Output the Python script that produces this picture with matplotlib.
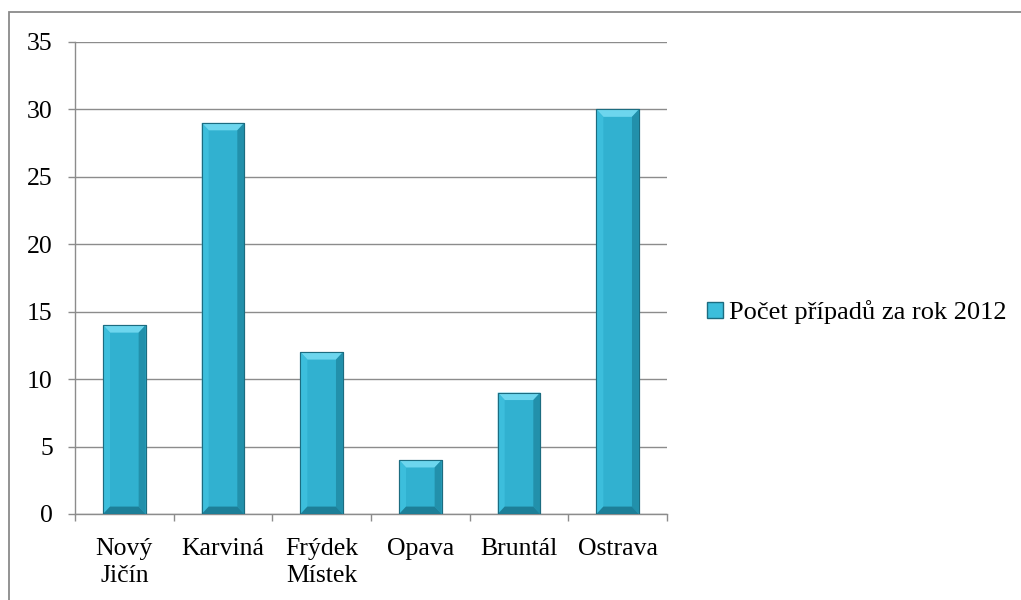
import matplotlib.pyplot as plt
from matplotlib.patches import Polygon, Rectangle
from matplotlib.lines import Line2D

# Data
districts = ['Nový\nJičín', 'Karviná', 'Frýdek\nMístek', 'Opava', 'Bruntál', 'Ostrava']
cases = [14, 29, 12, 4, 9, 30]
series_name = 'Počet případů za rok 2012'

plt.rcParams['font.family'] = ['Liberation Serif', 'DejaVu Serif']
plt.rcParams['font.size'] = 18.5

face = '#31b1d0'
top_c = '#6dd6ee'
left_c = '#3cbedc'
right_c = '#2290ab'
bot_c = '#1d7f98'
edge = '#1c6c80'
grid_c = '#8c8c8c'

fig = plt.figure(figsize=(10.21, 6), dpi=100)
ax = fig.add_axes([75 / 1021, 1 - 514 / 600, (667 - 75) / 1021, (514 - 42) / 600])

x = list(range(len(districts)))
bars = ax.bar(x, cases, width=0.43, color=face, edgecolor=edge, linewidth=0.8, zorder=3)

# bevel effect on each bar
bx, by = 0.07, 0.55
for b in bars:
    x0, w, h = b.get_x(), b.get_width(), b.get_height()
    x1 = x0 + w
    polys = [
        ([(x0, h), (x1, h), (x1 - bx, h - by), (x0 + bx, h - by)], top_c),
        ([(x0, 0), (x0, h), (x0 + bx, h - by), (x0 + bx, by)], left_c),
        ([(x1, 0), (x1, h), (x1 - bx, h - by), (x1 - bx, by)], right_c),
        ([(x0, 0), (x1, 0), (x1 - bx, by), (x0 + bx, by)], bot_c),
    ]
    for pts, c in polys:
        ax.add_patch(Polygon(pts, closed=True, facecolor=c, edgecolor='none', zorder=4))
    ax.add_patch(Rectangle((x0, 0), w, h, facecolor='none', edgecolor=edge, linewidth=0.8, zorder=5))

ax.set_xlim(-0.5, len(districts) - 0.5)
ax.set_ylim(0, 35)
ax.set_yticks(range(0, 36, 5))
ax.set_xticks(x)
ax.set_xticklabels(districts, linespacing=1.3)
ax.set_xticks([i - 0.5 for i in range(len(districts) + 1)], minor=True)
ax.tick_params(axis='x', which='major', length=0, pad=17)
ax.tick_params(axis='x', which='minor', length=5, width=1, color=grid_c, direction='out')
ax.tick_params(axis='y', length=5, width=1, color=grid_c, direction='out', pad=11)

ax.grid(axis='y', color=grid_c, linewidth=1, zorder=0)
ax.set_axisbelow(True)
for s in ['top', 'right']:
    ax.spines[s].set_visible(False)
for s in ['left', 'bottom']:
    ax.spines[s].set_color(grid_c)
    ax.spines[s].set_linewidth(1)

handle = Line2D([], [], marker='s', linestyle='none', markersize=11,
                markerfacecolor='#3cbedc', markeredgecolor=edge)
fig.legend([handle], [series_name], loc='center left',
           bbox_to_anchor=(704 / 1021, 1 - 312 / 600), frameon=False,
           handletextpad=0.15, handlelength=0.8, borderaxespad=0, borderpad=0,
           prop={'size': 19})

# outer chart border
fig.add_artist(Rectangle((9 / 1021, -0.1), 1.1, 1 - 12 / 600 + 0.1,
                         transform=fig.transFigure, facecolor='none',
                         edgecolor='#8a8a8a', linewidth=1.3))

fig.savefig('out.png', dpi=100)
